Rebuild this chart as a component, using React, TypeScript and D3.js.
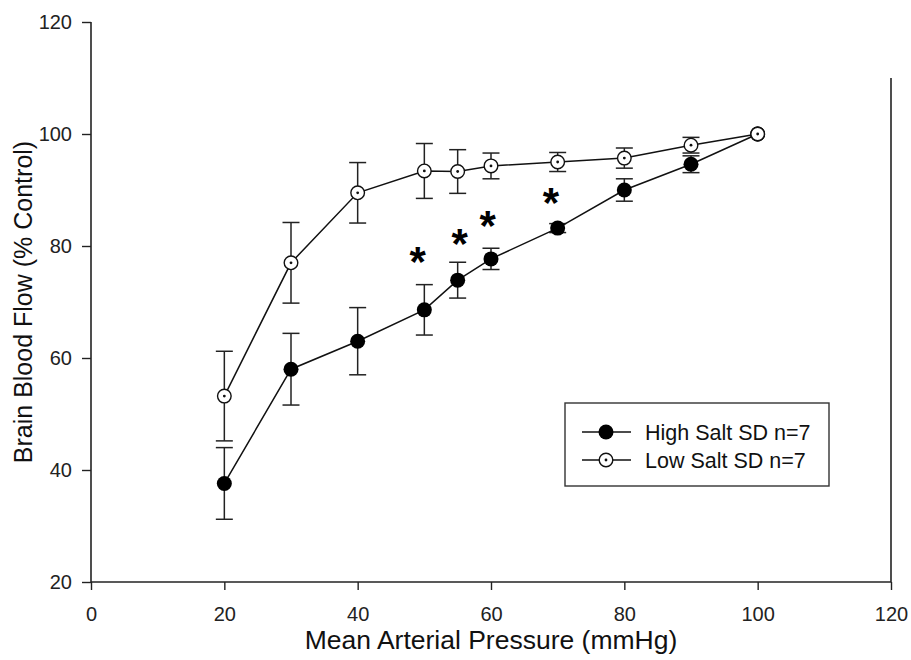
import React, { useRef, useEffect } from "react";
import * as d3 from "d3";

// mean arterial pressure steps (mmHg)
const pressure = [20, 30, 40, 50, 55, 60, 70, 80, 90, 100];

// brain blood flow, % of control, with error (+/-)
const highSalt = [37.6, 58, 63, 68.6, 73.9, 77.7, 83.2, 90, 94.6, 100];
const highSaltErr = [6.4, 6.4, 6, 4.5, 3.2, 1.9, 0.8, 2, 1.5, 0];
const lowSalt = [53.2, 77, 89.5, 93.4, 93.3, 94.3, 95, 95.7, 98, 100];
const lowSaltErr = [8, 7.2, 5.4, 4.9, 3.9, 2.3, 1.7, 1.8, 1.4, 0];

// significance stars (x, y in data units)
const starX = [49, 55.3, 59.5, 69];
const starY = [78, 81.2, 84.5, 88.5];

const xTicks = [0, 20, 40, 60, 80, 100, 120];
const yTicks = [20, 40, 60, 80, 100, 120];

const seriesNames = ["High Salt SD n=7", "Low Salt SD n=7"];

const W = 911;
const H = 660;

const App = () => {
  const ref = useRef<SVGSVGElement | null>(null);

  useEffect(() => {
    if (!ref.current) return;
    const svg = d3.select(ref.current);
    svg.selectAll("*").remove();

    const font = "'Liberation Sans', Arial, sans-serif";
    const ink = "#222";

    const x = d3.scaleLinear().domain([0, 120]).range([91, 891]);
    const y = d3.scaleLinear().domain([20, 120]).range([582, 22]);

    // axes
    const xAxis = svg
      .append("g")
      .attr("transform", `translate(0,${y(20)})`)
      .call(d3.axisBottom(x).tickValues(xTicks).tickSize(8).tickPadding(17).tickFormat(d3.format("d")));
    const yAxis = svg
      .append("g")
      .attr("transform", `translate(${x(0)},0)`)
      .call(d3.axisLeft(y).tickValues(yTicks).tickSize(9).tickPadding(10).tickFormat(d3.format("d")));

    [xAxis, yAxis].forEach((g) => {
      g.selectAll(".tick line").attr("stroke", ink).attr("stroke-width", 1.4);
      g.selectAll(".tick text")
        .attr("fill", "#222")
        .style("font-family", font)
        .style("font-size", "20px");
    });
    xAxis.select(".domain").attr("stroke", ink).attr("stroke-width", 1.6).attr("d", `M${x(0)},0H${x(120)}`);
    yAxis.select(".domain").attr("stroke", ink).attr("stroke-width", 1.6).attr("d", `M0,${y(120)}V${y(20)}`);
    // last x tick doubles as the right frame line
    svg
      .append("line")
      .attr("x1", x(120))
      .attr("x2", x(120))
      .attr("y1", y(110))
      .attr("y2", y(20))
      .attr("stroke", ink)
      .attr("stroke-width", 1.6);

    // axis titles
    svg
      .append("text")
      .attr("x", x(60))
      .attr("y", 649)
      .attr("text-anchor", "middle")
      .style("font-family", font)
      .style("font-size", "26.5px")
      .attr("fill", "#111")
      .text("Mean Arterial Pressure (mmHg)");
    svg
      .append("text")
      .attr("transform", `translate(32,${y(70)}) rotate(-90)`)
      .attr("text-anchor", "middle")
      .style("font-family", font)
      .style("font-size", "25px")
      .attr("fill", "#111")
      .text("Brain Blood Flow (% Control)");

    const series = [
      { vals: highSalt, err: highSaltErr, filled: true },
      { vals: lowSalt, err: lowSaltErr, filled: false },
    ];

    const line = d3
      .line<number>()
      .x((_, i) => x(pressure[i]))
      .y((d) => y(d));

    // error bars
    series.forEach((s) => {
      const g = svg.append("g").attr("stroke", ink).attr("stroke-width", 1.5);
      s.vals.forEach((v, i) => {
        if (!s.err[i]) return;
        const cx = x(pressure[i]);
        const top = y(v + s.err[i]);
        const bot = y(v - s.err[i]);
        g.append("line").attr("x1", cx).attr("x2", cx).attr("y1", top).attr("y2", bot);
        g.append("line").attr("x1", cx - 8.5).attr("x2", cx + 8.5).attr("y1", top).attr("y2", top);
        g.append("line").attr("x1", cx - 8.5).attr("x2", cx + 8.5).attr("y1", bot).attr("y2", bot);
      });
    });

    // lines
    series.forEach((s) => {
      svg
        .append("path")
        .datum(s.vals)
        .attr("d", line)
        .attr("fill", "none")
        .attr("stroke", "#111")
        .attr("stroke-width", 1.5);
    });

    const drawMarker = (g, cx, cy, filled) => {
      if (filled) {
        g.append("circle").attr("cx", cx).attr("cy", cy).attr("r", 7.5).attr("fill", "#000");
      } else {
        g.append("circle")
          .attr("cx", cx)
          .attr("cy", cy)
          .attr("r", 6.8)
          .attr("fill", "#fff")
          .attr("stroke", "#111")
          .attr("stroke-width", 1.4);
        g.append("circle").attr("cx", cx).attr("cy", cy).attr("r", 1.4).attr("fill", "#111");
      }
    };

    // markers (low salt first so high salt sits on top)
    [series[1], series[0]].forEach((s) => {
      const g = svg.append("g");
      s.vals.forEach((v, i) => drawMarker(g, x(pressure[i]), y(v), s.filled));
    });
    // the shared 100% point shows the open marker on top
    drawMarker(svg.append("g"), x(pressure[9]), y(lowSalt[9]), false);

    // stars
    svg
      .append("g")
      .selectAll("text")
      .data(starX)
      .join("text")
      .attr("x", (d) => x(d))
      .attr("y", (_, i) => y(starY[i]) + 19)
      .attr("text-anchor", "middle")
      .style("font-family", font)
      .style("font-size", "42px")
      .style("font-weight", "bold")
      .attr("fill", "#000")
      .text("*");

    // legend
    const lg = svg.append("g");
    lg.append("rect")
      .attr("x", 565)
      .attr("y", 403)
      .attr("width", 264)
      .attr("height", 83)
      .attr("fill", "#fff")
      .attr("stroke", "#333")
      .attr("stroke-width", 1.4);
    seriesNames.forEach((name, i) => {
      const ry = 432 + i * 28;
      lg.append("line")
        .attr("x1", 582)
        .attr("x2", 631)
        .attr("y1", ry)
        .attr("y2", ry)
        .attr("stroke", "#111")
        .attr("stroke-width", 1.5);
      drawMarker(lg, 606, ry, i === 0);
      lg.append("text")
        .attr("x", 645)
        .attr("y", ry + 7.5)
        .style("font-family", font)
        .style("font-size", "21.5px")
        .attr("fill", "#111")
        .text(name);
    });
  }, []);

  return (
    <svg
      ref={ref}
      width={W}
      height={H}
      style={{ position: "absolute", left: 0, top: 0, background: "#fff" }}
    />
  );
};

export default App;
